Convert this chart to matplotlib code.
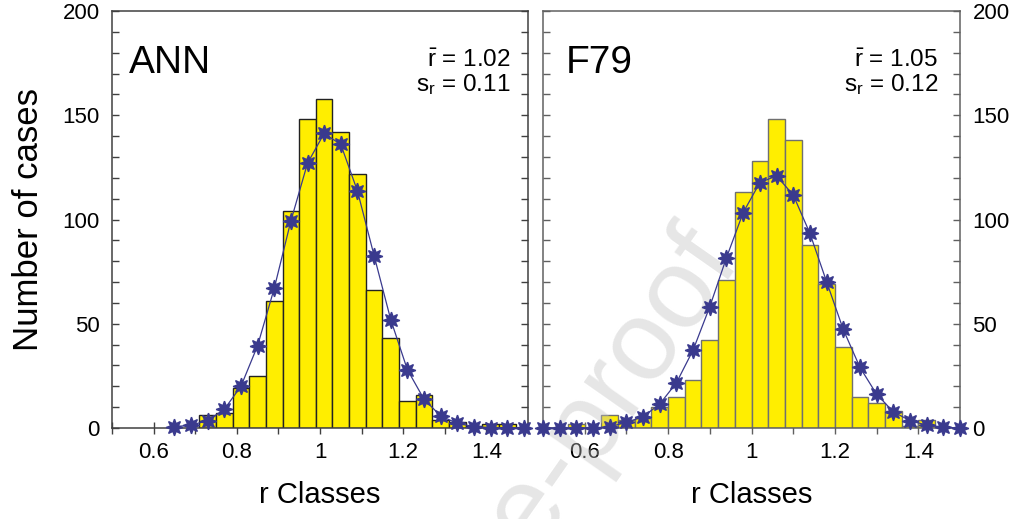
import matplotlib
matplotlib.use('Agg')
import matplotlib.pyplot as plt
from matplotlib.ticker import MultipleLocator

plt.rcParams['font.family'] = ['Liberation Sans', 'DejaVu Sans']
plt.rcParams['mathtext.fontset'] = 'custom'
plt.rcParams['mathtext.rm'] = 'Liberation Sans'
plt.rcParams['mathtext.it'] = 'Liberation Sans:italic'

# histogram classes (bin centres) and counts
ann_bins = [0.73, 0.77, 0.81, 0.85, 0.89, 0.93, 0.97, 1.01, 1.05, 1.09,
            1.13, 1.17, 1.21, 1.25, 1.29, 1.33, 1.37, 1.41, 1.45]
ann_counts = [6, 7, 19, 25, 61, 104, 148, 158, 142, 122,
              66, 43, 13, 16, 4, 3, 1, 2, 2]

# fitted normal curve
ann_fit_x = [0.65, 0.69, 0.73, 0.77, 0.81, 0.85, 0.89, 0.93, 0.97, 1.01, 1.05,
             1.09, 1.13, 1.17, 1.21, 1.25, 1.29, 1.33, 1.37, 1.41, 1.45, 1.49]
ann_fit_y = [0.6, 1.4, 3.5, 9, 20, 39.5, 67, 99.3, 127, 141.3, 136,
             113.7, 82.7, 52, 28, 13.8, 5.8, 2.2, 0.7, 0.2, 0.0, 0.0]

f79_bins = [0.58, 0.62, 0.66, 0.70, 0.74, 0.78, 0.82, 0.86, 0.90, 0.94, 0.98,
            1.02, 1.06, 1.10, 1.14, 1.18, 1.22, 1.26, 1.30, 1.34, 1.38, 1.42]
f79_counts = [2, 0, 6, 4, 5, 10, 15, 23, 42, 71, 113,
              128, 148, 138, 88, 69, 39, 15, 12, 8, 1, 4]

f79_fit_x = [0.50, 0.54, 0.58, 0.62, 0.66, 0.70, 0.74, 0.78, 0.82, 0.86, 0.90, 0.94, 0.98,
             1.02, 1.06, 1.10, 1.14, 1.18, 1.22, 1.26, 1.30, 1.34, 1.38, 1.42, 1.46, 1.50]
f79_fit_y = [0, 0, 0, 0, 0.6, 2.7, 5.4, 11.5, 21.7, 37.4, 58.2, 81.7, 103.3,
             117.7, 120.9, 111.8, 93.4, 70.2, 47.3, 29.1, 16.2, 7.8, 3.5, 1.4, 0.4, 0]

BAR_WIDTH = 0.04
YELLOW = '#ffee00'
STAR = '#3a3a8e'


def draw_panel(ax, bins, counts, fit_x, fit_y, name, mean_txt, sd_txt,
               edge, spine, labels_right, name_x, stats_x):
    ax.bar(bins, counts, width=BAR_WIDTH, color=YELLOW, edgecolor=edge,
           linewidth=1.0, zorder=1)
    ax.plot(fit_x, fit_y, color=STAR, lw=0.9, marker=(8, 1, 0), ms=12,
            mfc=STAR, mec=STAR, clip_on=False, zorder=3)
    ax.set_xlim(0.5, 1.5)
    ax.set_ylim(0, 200)
    ax.set_axisbelow(True)
    ax.xaxis.set_minor_locator(MultipleLocator(0.1))
    ax.yaxis.set_major_locator(MultipleLocator(50))
    ax.yaxis.set_minor_locator(MultipleLocator(10))
    ax.set_xticks([0.6, 0.8, 1.0, 1.2, 1.4])
    ax.set_xticklabels(['0.6', '0.8', '1', '1.2', '1.4'])
    for s in ax.spines.values():
        s.set_color(spine)
        s.set_linewidth(1.1)
    ax.tick_params(axis='x', which='both', direction='inout', length=8,
                   width=1, color=spine, labelsize=16, pad=6)
    ax.tick_params(axis='y', which='both', direction='in', length=5,
                   width=1, color=spine, left=True, right=True,
                   labelleft=not labels_right, labelright=labels_right,
                   labelsize=16, pad=9)
    ax.set_xlabel('r Classes', fontsize=21, labelpad=13)
    ax.text(name_x, 0.852, name, transform=ax.transAxes, fontsize=28,
            ha='left', va='baseline')
    ax.text(stats_x, 0.866, mean_txt, transform=ax.transAxes, fontsize=17.5,
            ha='right', va='baseline')
    ax.text(stats_x, 0.808, sd_txt, transform=ax.transAxes, fontsize=17.5,
            ha='right', va='baseline')


fig = plt.figure(figsize=(10.21, 5.19), dpi=100)
ax_l = fig.add_axes([112 / 1021, 91 / 519, 416 / 1021, 417 / 519])
ax_r = fig.add_axes([543 / 1021, 91 / 519, 417 / 1021, 417 / 519])

draw_panel(ax_l, ann_bins, ann_counts, ann_fit_x, ann_fit_y, 'ANN',
           r'$\bar{\mathrm{r}}$ = 1.02', r's$_\mathrm{r}$ = 0.11',
           '#222222', '#404040', False, 0.04, 0.958)
draw_panel(ax_r, f79_bins, f79_counts, f79_fit_x, f79_fit_y, 'F79',
           r'$\bar{\mathrm{r}}$ = 1.05', r's$_\mathrm{r}$ = 0.12',
           '#707070', '#606060', True, 0.055, 0.948)

fig.text(28 / 1021, 1 - 219 / 519, 'Number of cases', rotation=90,
         fontsize=25, ha='center', va='center')

# faint diagonal watermark: above the bars, below the stars
ax_r.text(742 / 1021, 1 - 262 / 519, 'Journal Pre-proof', rotation=55,
          rotation_mode='anchor', ha='right', va='baseline', fontsize=82,
          color='#c0c0c0', alpha=0.4, zorder=2, clip_on=False,
          transform=fig.transFigure)

fig.savefig('out.png', dpi=100)
